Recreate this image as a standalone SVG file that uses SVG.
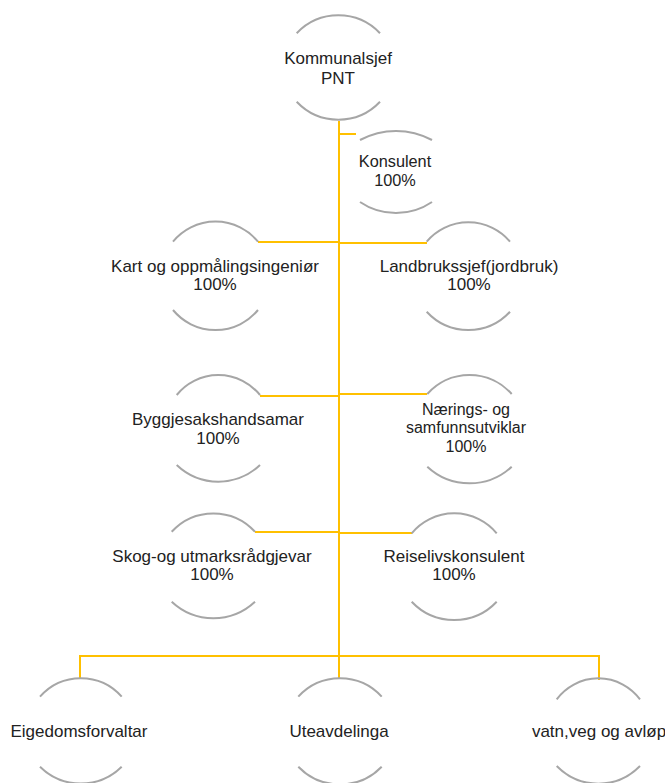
<svg xmlns="http://www.w3.org/2000/svg" width="665" height="783" viewBox="0 0 665 783">
<style>
.arc{fill:none;stroke:#A6A6A6;stroke-width:2}
.con{fill:none;stroke:#FFC000;stroke-width:2}
text{font-family:"Liberation Sans",Arial,sans-serif;font-size:17px;fill:#222;text-anchor:middle}
</style>
<rect width="665" height="783" fill="#fff"/>
<g id="connectors">
<path class="con" d="M339,121 V656"/>
<path class="con" d="M339,134 H356"/>
<path class="con" d="M258,242 H339"/>
<path class="con" d="M339,243 H427"/>
<path class="con" d="M260,396 H339"/>
<path class="con" d="M339,394 H427"/>
<path class="con" d="M255,532 H339"/>
<path class="con" d="M339,533 H412"/>
<path class="con" d="M80,679 V656 H599 V680"/>
<path class="con" d="M339,656 V679"/>
</g>
<g id="kommunalsjef">
<path class="arc" d="M296.7,33.3 A57.3,57.3 0 0 1 380,33.3"/>
<path class="arc" d="M296.7,101.7 A57.3,57.3 0 0 0 380,101.7"/>
<text x="338" y="64">Kommunalsjef</text>
<text x="338" y="84">PNT</text>
</g>
<g id="konsulent">
<path class="arc" d="M360,140 A76,76 0 0 1 432,140"/>
<path class="arc" d="M360,202 A64,64 0 0 0 432,202"/>
<text x="395" y="167" style="font-size:16.3px">Konsulent</text>
<text x="395" y="186" style="font-size:16.3px">100%</text>
</g>
<g id="kart">
<path class="arc" d="M173,241.7 A55,55 0 0 1 258,241.7"/>
<path class="arc" d="M173,310 A55,55 0 0 0 258,310"/>
<text x="215" y="272">Kart og oppmålingsingeniør</text>
<text x="215" y="290">100%</text>
</g>
<g id="landbrukssjef">
<path class="arc" d="M426.7,241.7 A54.5,54.5 0 0 1 510,241.7"/>
<path class="arc" d="M426.7,311.7 A56.7,56.7 0 0 0 510,311.7"/>
<text x="469" y="272">Landbrukssjef(jordbruk)</text>
<text x="469" y="290">100%</text>
</g>
<g id="byggjesak">
<path class="arc" d="M176.7,395 A53.5,53.5 0 0 1 260,395"/>
<path class="arc" d="M176.7,465 A60.4,60.4 0 0 0 260,465"/>
<text x="218" y="425">Byggjesakshandsamar</text>
<text x="218" y="444">100%</text>
</g>
<g id="naerings">
<path class="arc" d="M427.3,394 A56.4,56.4 0 0 1 511.7,394"/>
<path class="arc" d="M427.3,466.7 A62,62 0 0 0 511.7,466.7"/>
<text x="466" y="415" style="font-size:16px">Nærings- og</text>
<text x="466" y="433" style="font-size:16px">samfunnsutviklar</text>
<text x="466" y="452" style="font-size:16px">100%</text>
</g>
<g id="skog">
<path class="arc" d="M171.7,531.7 A56.5,56.5 0 0 1 255,531.7"/>
<path class="arc" d="M171.7,601.7 A61,61 0 0 0 255,601.7"/>
<text x="212" y="562">Skog-og utmarksrådgjevar</text>
<text x="212" y="580">100%</text>
</g>
<g id="reiseliv">
<path class="arc" d="M411.7,533.3 A55.2,55.2 0 0 1 496.7,533.3"/>
<path class="arc" d="M411.7,601.7 A58.5,58.5 0 0 0 496.7,601.7"/>
<text x="454" y="562">Reiselivskonsulent</text>
<text x="454" y="580">100%</text>
</g>
<g id="eigedom">
<path class="arc" d="M40,696.7 A54.5,54.5 0 0 1 121.7,696.7"/>
<path class="arc" d="M40,766.7 A58,58 0 0 0 121.7,766.7"/>
<text x="79" y="737">Eigedomsforvaltar</text>
</g>
<g id="uteavdelinga">
<path class="arc" d="M298.3,696.7 A56.5,56.5 0 0 1 381.7,696.7"/>
<path class="arc" d="M298.3,766.7 A58,58 0 0 0 381.7,766.7"/>
<text x="339" y="737">Uteavdelinga</text>
</g>
<g id="vatn">
<path class="arc" d="M556.7,699.3 A51.9,51.9 0 0 1 640,699.3"/>
<path class="arc" d="M556.7,766 A58,58 0 0 0 640,766"/>
<text x="599" y="737">vatn,veg og avløp</text>
</g>
</svg>
